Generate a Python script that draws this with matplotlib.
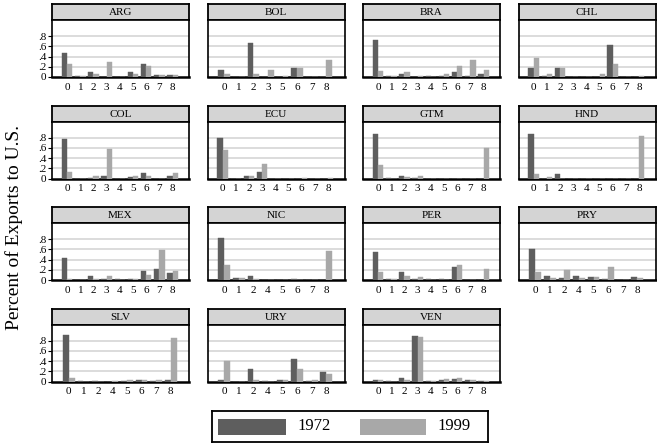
import matplotlib
matplotlib.use("Agg")
import matplotlib.pyplot as plt
from matplotlib.patches import Rectangle

plt.rcParams['font.family'] = ['Liberation Serif', 'DejaVu Serif']

countries = ["ARG", "BOL", "BRA", "CHL", "COL", "ECU", "GTM", "HND",
             "MEX", "NIC", "PER", "PRY", "SLV", "URY", "VEN"]

full = [0, 1, 2, 3, 4, 5, 6, 7, 8]
no4 = [0, 1, 2, 3, 5, 6, 7, 8]
no3 = [0, 1, 2, 4, 5, 6, 7, 8]
categories = [full, no4, full, full, full, full, full, full,
              full, no3, full, no3, no3, no3, full]

v1972 = [
    [0.48, 0.01, 0.10, 0.00, 0.00, 0.10, 0.25, 0.03, 0.03],  # ARG
    [0.13, 0.00, 0.66, 0.00, 0.00, 0.17, 0.00, 0.00],        # BOL
    [0.72, 0.01, 0.06, 0.00, 0.01, 0.01, 0.10, 0.01, 0.05],  # BRA
    [0.18, 0.01, 0.18, 0.00, 0.00, 0.00, 0.62, 0.00, 0.00],  # CHL
    [0.77, 0.00, 0.01, 0.05, 0.00, 0.02, 0.10, 0.00, 0.05],  # COL
    [0.79, 0.00, 0.05, 0.13, 0.00, 0.00, 0.00, 0.00, 0.00],  # ECU
    [0.88, 0.01, 0.05, 0.01, 0.00, 0.00, 0.00, 0.00, 0.00],  # GTM
    [0.87, 0.00, 0.08, 0.00, 0.00, 0.00, 0.00, 0.00, 0.00],  # HND
    [0.43, 0.00, 0.07, 0.01, 0.01, 0.02, 0.17, 0.21, 0.13],  # MEX
    [0.83, 0.04, 0.07, 0.00, 0.00, 0.01, 0.00, 0.00],        # NIC
    [0.55, 0.02, 0.15, 0.01, 0.01, 0.01, 0.26, 0.00, 0.00],  # PER
    [0.60, 0.07, 0.04, 0.07, 0.06, 0.01, 0.00, 0.06],        # PRY
    [0.92, 0.01, 0.01, 0.00, 0.01, 0.03, 0.01, 0.03],        # SLV
    [0.02, 0.00, 0.25, 0.01, 0.03, 0.45, 0.01, 0.18],        # URY
    [0.03, 0.01, 0.06, 0.90, 0.01, 0.02, 0.05, 0.02, 0.01],  # VEN
]
v1999 = [
    [0.25, 0.01, 0.06, 0.29, 0.00, 0.05, 0.22, 0.04, 0.04],  # ARG
    [0.05, 0.00, 0.05, 0.13, 0.01, 0.17, 0.00, 0.33],        # BOL
    [0.12, 0.02, 0.10, 0.01, 0.00, 0.05, 0.22, 0.34, 0.13],  # BRA
    [0.38, 0.05, 0.18, 0.00, 0.00, 0.05, 0.26, 0.00, 0.01],  # CHL
    [0.13, 0.00, 0.05, 0.58, 0.00, 0.05, 0.05, 0.00, 0.10],  # COL
    [0.56, 0.00, 0.05, 0.29, 0.00, 0.00, 0.01, 0.00, 0.01],  # ECU
    [0.27, 0.00, 0.02, 0.04, 0.00, 0.00, 0.00, 0.00, 0.59],  # GTM
    [0.09, 0.03, 0.00, 0.00, 0.00, 0.00, 0.00, 0.00, 0.83],  # HND
    [0.01, 0.00, 0.01, 0.07, 0.00, 0.01, 0.09, 0.59, 0.17],  # MEX
    [0.30, 0.03, 0.01, 0.00, 0.00, 0.00, 0.00, 0.57],        # NIC
    [0.15, 0.01, 0.07, 0.05, 0.00, 0.00, 0.30, 0.00, 0.22],  # PER
    [0.15, 0.03, 0.19, 0.03, 0.06, 0.26, 0.00, 0.03],        # PRY
    [0.06, 0.00, 0.00, 0.01, 0.02, 0.03, 0.03, 0.85],        # SLV
    [0.41, 0.00, 0.03, 0.00, 0.02, 0.25, 0.03, 0.14],        # URY
    [0.03, 0.00, 0.03, 0.87, 0.01, 0.05, 0.06, 0.03, 0.01],  # VEN
]

years = ["1972", "1999"]
ytick_vals = [0, 0.2, 0.4, 0.6, 0.8]
ytick_labels = ["0", ".2", ".4", ".6", ".8"]

c72 = "#5e5e5e"
c99 = "#a8a8a8"
strip_col = "#d4d4d4"
grid_col = "#dcdcdc"

W, H = 657, 445
fig = plt.figure(figsize=(W / 100, H / 100), dpi=100)


def box(px_left, px_top, px_w, px_h):
    return [px_left / W, 1 - (px_top + px_h) / H, px_w / W, px_h / H]


col_left = [52, 207.5, 363, 518.5]
panel_w = 137
row_top = [4, 105.5, 207, 308.5]
strip_h = 16
plot_h = 57

for k, name in enumerate(countries):
    r, c = divmod(k, 4)
    left = col_left[c]
    top = row_top[r]

    # strip
    sax = fig.add_axes(box(left, top, panel_w, strip_h))
    sax.set_facecolor(strip_col)
    sax.set_xticks([])
    sax.set_yticks([])
    for s in sax.spines.values():
        s.set_linewidth(1.3)
        s.set_color("black")
    sax.text(0.5, 0.45, name, ha="center", va="center", fontsize=8,
             transform=sax.transAxes)

    # plot
    ax = fig.add_axes(box(left, top + strip_h, panel_w, plot_h))
    cats = categories[k]
    n = len(cats)
    pos = list(range(n))
    w = 0.4
    ax.bar([p - w / 2 for p in pos], v1972[k], width=w, color=c72,
           edgecolor=c72, linewidth=0.3, zorder=3)
    ax.bar([p + w / 2 for p in pos], v1999[k], width=w, color=c99,
           edgecolor=c99, linewidth=0.3, zorder=3)
    ax.set_xlim(-1.15, n - 1 + 1.25)
    ax.set_ylim(0, 1.12)
    for yv in ytick_vals[1:]:
        ax.axhline(yv, color=grid_col, lw=1.4, zorder=1)
    ax.set_xticks(pos)
    ax.set_xticklabels([str(cc) for cc in cats], fontsize=8)
    ax.tick_params(axis="x", length=0, pad=4)
    ax.set_yticks(ytick_vals)
    if c == 0:
        ax.set_yticklabels(ytick_labels, fontsize=8)
        ax.tick_params(axis="y", length=3, width=0.8, pad=1)
    else:
        ax.set_yticklabels([])
        ax.tick_params(axis="y", length=0)
    for s in ax.spines.values():
        s.set_linewidth(1.2)
        s.set_color("black")
    ax.spines["bottom"].set_linewidth(1.8)

fig.text(14 / W, 1 - 227 / H, "Percent of Exports to U.S.", rotation=90,
         ha="center", va="center", fontsize=14)

# legend
lax = fig.add_axes(box(212, 411, 276, 31))
lax.set_xlim(0, 276)
lax.set_ylim(0, 31)
lax.set_xticks([])
lax.set_yticks([])
for s in lax.spines.values():
    s.set_linewidth(1.3)
lax.add_patch(Rectangle((6, 7.5), 68, 16, facecolor=c72, edgecolor="none"))
lax.text(85, 15.5, years[0], va="center", ha="left", fontsize=12)
lax.add_patch(Rectangle((148, 7.5), 66, 16, facecolor=c99, edgecolor="none"))
lax.text(225, 15.5, years[1], va="center", ha="left", fontsize=12)

fig.savefig("out.png", dpi=100)
